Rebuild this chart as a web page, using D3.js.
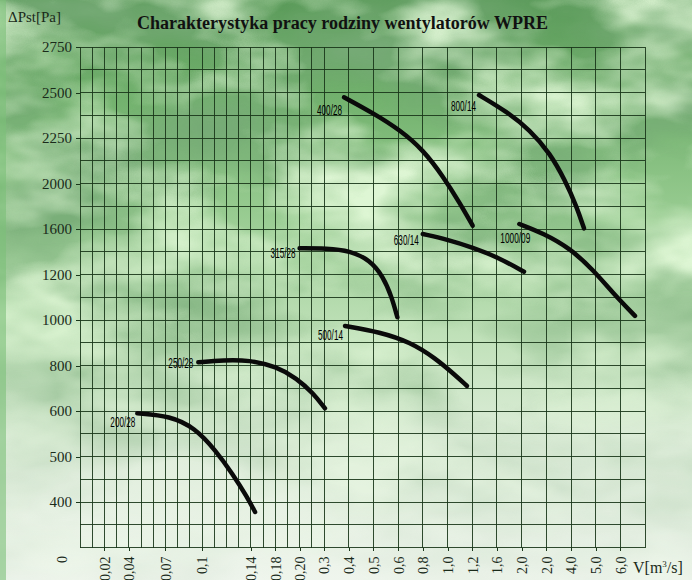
<!DOCTYPE html>
<html>
<head>
<meta charset="utf-8">
<script src="https://cdn.jsdelivr.net/npm/d3@7"></script>
<style>
  body { margin: 0; background: #eef4ec; }
  svg { display: block; }
</style>
</head>
<body>
<script>
// chart box
const WIDTH = 692, HEIGHT = 580;
const PLOT = { left: 80, top: 47, bottom: 547.5, fine: 12.2, coarse: 24.7 };

// y axis: evenly spaced but not linear values
const yTicks = [0, 400, 500, 600, 800, 1000, 1200, 1600, 2000, 2250, 2500, 2750];

// x axis breakpoints (also non linear)
const xBreaks = [0, 0.14, 0.18, 0.20, 0.3, 0.4, 0.5, 0.6, 0.8, 1.0, 1.2, 1.6, 2.0, 3.0, 4.0, 5.0, 6.0, 7.0];
const xTickValues = [0.02, 0.04, 0.07, 0.1, 0.14, 0.18, 0.20, 0.3, 0.4, 0.5, 0.6, 0.8, 1.0, 1.2, 1.6, 2.0, 3.0, 4.0, 5.0, 6.0];
const xTickLabels = ["0,02", "0,04", "0,07", "0,1", "0,14", "0,18", "0,20", "0,3", "0,4", "0,5", "0,6", "0,8", "1,0", "1,2", "1,6", "2,0", "2,0", "4,0", "5,0", "6,0"];

// fan curves, [V m3/s, Pst Pa]
const fan200_28 = [[0.047, 595], [0.074, 589], [0.094, 563], [0.111, 514], [0.125, 462], [0.137, 411], [0.147, 312]];
const fan250_28 = [[0.097, 814], [0.1175, 824], [0.139, 824], [0.181, 795], [0.1976, 744], [0.256, 678], [0.304, 612]];
const fan315_28 = [[0.20, 1430], [0.311, 1430], [0.405, 1409], [0.486, 1327], [0.540, 1190], [0.574, 1102], [0.597, 1012]];
const fan400_28 = [[0.381, 2474], [0.5, 2386], [0.615, 2294], [0.804, 2184], [0.966, 2037], [1.101, 1826], [1.208, 1629]];
const fan500_14 = [[0.385, 974], [0.527, 947], [0.696, 903], [0.899, 833], [1.061, 758], [1.158, 710]];
const fan630_14 = [[0.8, 1556], [0.994, 1509], [1.218, 1436], [1.597, 1356], [2.097, 1225]];
const fan800_14 = [[1.31, 2486], [1.759, 2395], [2.34, 2294], [3.15, 2166], [3.757, 2019], [4.23, 1796], [4.526, 1606]];
const fan1000_09 = [[1.963, 1644], [2.88, 1562], [3.96, 1430], [4.90, 1240], [5.71, 1117], [6.59, 1018]];

const fanNames = ["200/28", "250/28", "315/28", "400/28", "500/14", "630/14", "800/14", "1000/09"];
const fanPoints = [fan200_28, fan250_28, fan315_28, fan400_28, fan500_14, fan630_14, fan800_14, fan1000_09];
// label nudge from the curve start, px
const labelNudge = [[-2, 14], [-5, 5.5], [-4, 9.5], [-2, 18], [-2, 14.5], [-4, 11], [-3, 15.5], [11, 19.5]];

const fans = fanNames.map((name, i) => ({ name, points: fanPoints[i], nudge: labelNudge[i] }));

// scales
const yStep = (PLOT.bottom - PLOT.top) / (yTicks.length - 1);
const yScale = d3.scaleLinear()
    .domain(yTicks)
    .range(yTicks.map((d, i) => PLOT.bottom - i * yStep));

const fineUnits = [0, 14, 16, 18, 20];
const xScale = d3.scaleLinear()
    .domain(xBreaks)
    .range(xBreaks.map((d, i) => i < fineUnits.length
        ? PLOT.left + fineUnits[i] * PLOT.fine
        : PLOT.left + 20 * PLOT.fine + (i - 4) * PLOT.coarse));
const PLOT_RIGHT = xScale(7.0);

const svg = d3.select('body').append('svg')
    .attr('width', WIDTH)
    .attr('height', HEIGHT);

// background: gradient + cloudy noise
const defs = svg.append('defs');
const grad = defs.append('linearGradient').attr('id', 'bg').attr('x1', 0).attr('y1', 0).attr('x2', 0).attr('y2', 1);
[[0, '#5a9a59'], [0.18, '#74b36f'], [0.38, '#9acd93'], [0.58, '#c0e1b9'], [0.78, '#e0eedc'], [1, '#eff5ed']]
    .forEach(([o, c]) => grad.append('stop').attr('offset', o).attr('stop-color', c));

const fade = defs.append('linearGradient').attr('id', 'fade').attr('x1', 0).attr('y1', 0).attr('x2', 0).attr('y2', 1);
[[0, 1], [0.45, 0.85], [0.75, 0.35], [1, 0.1]]
    .forEach(([o, a]) => fade.append('stop').attr('offset', o).attr('stop-color', 'white').attr('stop-opacity', a));
defs.append('mask').attr('id', 'fadeMask')
    .append('rect').attr('width', WIDTH).attr('height', HEIGHT).attr('fill', 'url(#fade)');

const darkCloud = defs.append('filter').attr('id', 'darkCloud').attr('x', 0).attr('y', 0).attr('width', '100%').attr('height', '100%');
darkCloud.append('feTurbulence').attr('type', 'fractalNoise').attr('baseFrequency', '0.005 0.011').attr('numOctaves', 4).attr('seed', 7);
darkCloud.append('feColorMatrix').attr('type', 'matrix')
    .attr('values', '0 0 0 0 0.18  0 0 0 0 0.40  0 0 0 0 0.18  2.6 0 0 0 -0.95');

const lightCloud = defs.append('filter').attr('id', 'lightCloud').attr('x', 0).attr('y', 0).attr('width', '100%').attr('height', '100%');
lightCloud.append('feTurbulence').attr('type', 'fractalNoise').attr('baseFrequency', '0.007 0.014').attr('numOctaves', 4).attr('seed', 21);
lightCloud.append('feColorMatrix').attr('type', 'matrix')
    .attr('values', '0 0 0 0 0.80  0 0 0 0 0.97  0 0 0 0 0.72  2.6 0 0 0 -1.1');

svg.append('rect').attr('width', WIDTH).attr('height', HEIGHT).attr('fill', 'url(#bg)');
svg.append('g').attr('mask', 'url(#fadeMask)').call(g => {
    g.append('rect').attr('width', WIDTH).attr('height', HEIGHT).attr('filter', 'url(#darkCloud)');
    g.append('rect').attr('width', WIDTH).attr('height', HEIGHT).attr('filter', 'url(#lightCloud)');
});
// left green strip
svg.append('rect').attr('x', 0).attr('y', 0).attr('width', 6).attr('height', HEIGHT)
    .attr('fill', '#7cbf78').attr('opacity', 0.6);

// grid
const GRID_COLOR = '#1a361a';
const grid = svg.append('g')
    .attr('stroke', GRID_COLOR)
    .attr('stroke-width', 1)
    .attr('stroke-opacity', 0.9)
    .attr('shape-rendering', 'crispEdges');

const yGrid = yTicks.concat(d3.pairs(yTicks).map(([a, b]) => (a + b) / 2));
grid.selectAll('line.h').data(yGrid).join('line')
    .attr('class', 'h')
    .attr('x1', PLOT.left).attr('x2', PLOT_RIGHT)
    .attr('y1', d => yScale(d)).attr('y2', d => yScale(d));

const xGrid = d3.range(0, 15).map(i => i / 100)
    .concat([0.16, 0.18, 0.19, 0.20, 0.25])
    .concat(xBreaks.filter(d => d >= 0.3));
grid.selectAll('line.v').data(xGrid).join('line')
    .attr('class', 'v')
    .attr('y1', PLOT.top).attr('y2', PLOT.bottom)
    .attr('x1', d => xScale(d)).attr('x2', d => xScale(d));

// y axis
const yAxis = d3.axisLeft(yScale)
    .tickValues(yTicks.slice(1))
    .tickFormat(d3.format('d'))
    .tickSize(4)
    .tickPadding(4);
svg.append('g')
    .attr('transform', `translate(${PLOT.left},0)`)
    .call(yAxis)
    .call(g => g.select('.domain').remove())
    .call(g => g.selectAll('.tick line').attr('stroke', GRID_COLOR).attr('shape-rendering', 'crispEdges'))
    .call(g => g.selectAll('.tick text')
        .attr('fill', '#1a2a1a')
        .attr('font-family', '"Liberation Serif", "DejaVu Serif", serif')
        .attr('font-size', 15));

// x axis
const xAxis = d3.axisBottom(xScale)
    .tickValues(xTickValues)
    .tickFormat((d, i) => xTickLabels[i])
    .tickSize(3)
    .tickPadding(0);
svg.append('g')
    .attr('transform', `translate(0,${PLOT.bottom})`)
    .call(xAxis)
    .call(g => g.select('.domain').remove())
    .call(g => g.selectAll('.tick line').attr('stroke', GRID_COLOR).attr('shape-rendering', 'crispEdges'))
    .call(g => g.selectAll('.tick text')
        .attr('fill', '#1a2a1a')
        .attr('font-family', '"Liberation Serif", "DejaVu Serif", serif')
        .attr('font-size', 14)
        .attr('text-anchor', 'end')
        .attr('transform', 'rotate(-90)')
        .attr('x', -9)
        .attr('y', 0)
        .attr('dy', '0.35em'));

// origin "0"
svg.append('text')
    .attr('transform', `translate(${PLOT.left - 18},${PLOT.bottom + 12}) rotate(-90)`)
    .attr('text-anchor', 'middle')
    .attr('dy', '0.35em')
    .attr('font-family', '"Liberation Serif", serif')
    .attr('font-size', 14)
    .attr('fill', '#1a2a1a')
    .text('0');

// axis titles
svg.append('text')
    .attr('x', 8).attr('y', 22)
    .attr('font-family', '"Liberation Serif", serif')
    .attr('font-size', 15)
    .attr('fill', '#1a2a1a')
    .text('ΔPst[Pa]');

svg.append('text')
    .attr('x', 633).attr('y', 573)
    .attr('font-family', '"Liberation Serif", serif')
    .attr('font-size', 16)
    .attr('fill', '#1a2a1a')
    .call(t => {
        t.append('tspan').text('V[m');
        t.append('tspan').attr('font-size', 9).attr('dy', -6).text('3');
        t.append('tspan').attr('dy', 6).text('/s]');
    });

// title
svg.append('text')
    .attr('x', 137).attr('y', 29)
    .attr('font-family', '"Liberation Serif", serif')
    .attr('font-weight', 'bold')
    .attr('font-size', 18)
    .attr('fill', '#111')
    .attr('textLength', 411)
    .attr('lengthAdjust', 'spacingAndGlyphs')
    .text('Charakterystyka pracy rodziny wentylatorów WPRE');

// fan curves
const line = d3.line()
    .x(d => xScale(d[0]))
    .y(d => yScale(d[1]))
    .curve(d3.curveBasis);

svg.append('g')
    .selectAll('path')
    .data(fans)
    .join('path')
    .attr('d', d => line(d.points))
    .attr('fill', 'none')
    .attr('stroke', '#0a0a0a')
    .attr('stroke-width', 4.5)
    .attr('stroke-linecap', 'round');

svg.append('g')
    .selectAll('text')
    .data(fans)
    .join('text')
    .attr('x', d => xScale(d.points[0][0]) + d.nudge[0])
    .attr('y', d => yScale(d.points[0][1]) + d.nudge[1])
    .attr('text-anchor', 'end')
    .attr('font-family', '"Liberation Sans Narrow", "Arial Narrow", "Liberation Sans", sans-serif')
    .attr('font-size', 14)
    .attr('fill', '#000')
    .attr('textLength', d => d.name.length > 6 ? 30 : 25)
    .attr('lengthAdjust', 'spacingAndGlyphs')
    .text(d => d.name);
</script>
</body>
</html>
